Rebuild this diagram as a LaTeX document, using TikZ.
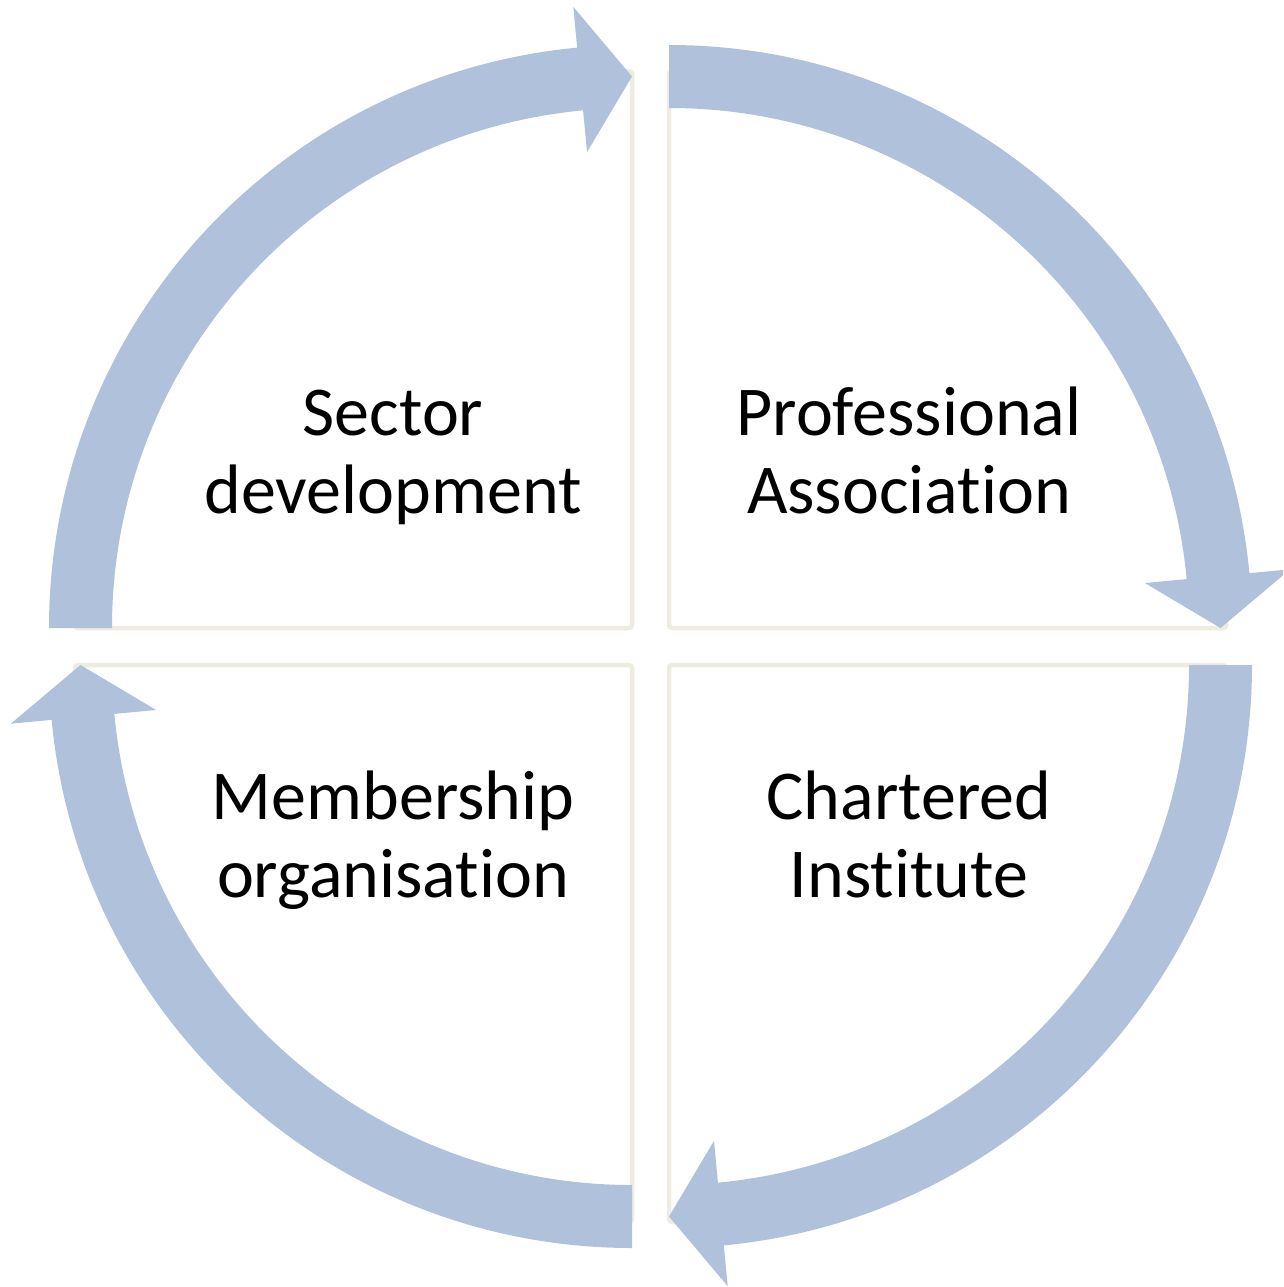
\documentclass[tikz,border=0pt]{standalone}
\usepackage{fontspec}
\setmainfont[Ligatures=NoCommon]{Carlito}
\definecolor{arrowblue}{RGB}{176,193,220}
\definecolor{boxline}{RGB}{238,236,225}
\newcommand\cyclearrow[2]{%
  \fill[arrowfill, shift={(#1)}] (#2:520) -- (#2:583)
    arc[start angle=#2, end angle=#2+84.6, radius=583]
    -- ({#2+84.6}:624) -- ({#2+90}:551.5) -- ({#2+84.6}:478) -- ({#2+84.6}:520)
    arc[start angle=#2+84.6, end angle=#2, radius=520] -- cycle;}
\begin{document}
\begin{tikzpicture}[x=1pt,y=-1pt,
  quad/.style={draw=boxline, line width=4.5pt, fill=white, rounded corners=3pt},
  arrowfill/.style={fill=arrowblue},
  lbl/.style={align=center, font=\fontsize{70}{78}\selectfont, text=black, inner sep=0pt}]
\useasboundingbox (0,0) rectangle (1283,1287);
\clip (0,0) rectangle (1283,1287);
% quadrant shapes (quarter discs, outer arc hidden under the arrows)
\draw[quad] (632,628) -- (75,628) arc[start angle=180, end angle=270, radius=557] -- cycle;
\draw[quad] (669,628) -- (669,71) arc[start angle=270, end angle=360, radius=557] -- cycle;
\draw[quad] (669,665) -- (1226,665) arc[start angle=0, end angle=90, radius=557] -- cycle;
\draw[quad] (632,665) -- (632,1222) arc[start angle=90, end angle=180, radius=557] -- cycle;
\coordinate (ctl) at (632,628);
\coordinate (ctr) at (669,628);
\coordinate (cbr) at (669,665);
\coordinate (cbl) at (632,665);
\cyclearrow{ctl}{180}
\cyclearrow{ctr}{270}
\cyclearrow{cbr}{0}
\cyclearrow{cbl}{90}
\node[lbl] (sd) at (393,459) {\strut Sector\\development\strut};
\node[lbl] (pa) at (909,459) {\strut Professional\\Association\strut};
\node[lbl] (mo) at (393,843) {\strut Membership\\organisation\strut};
\node[lbl] (ci) at (909,843) {\strut Chartered\\Institute\strut};
\end{tikzpicture}
\end{document}
